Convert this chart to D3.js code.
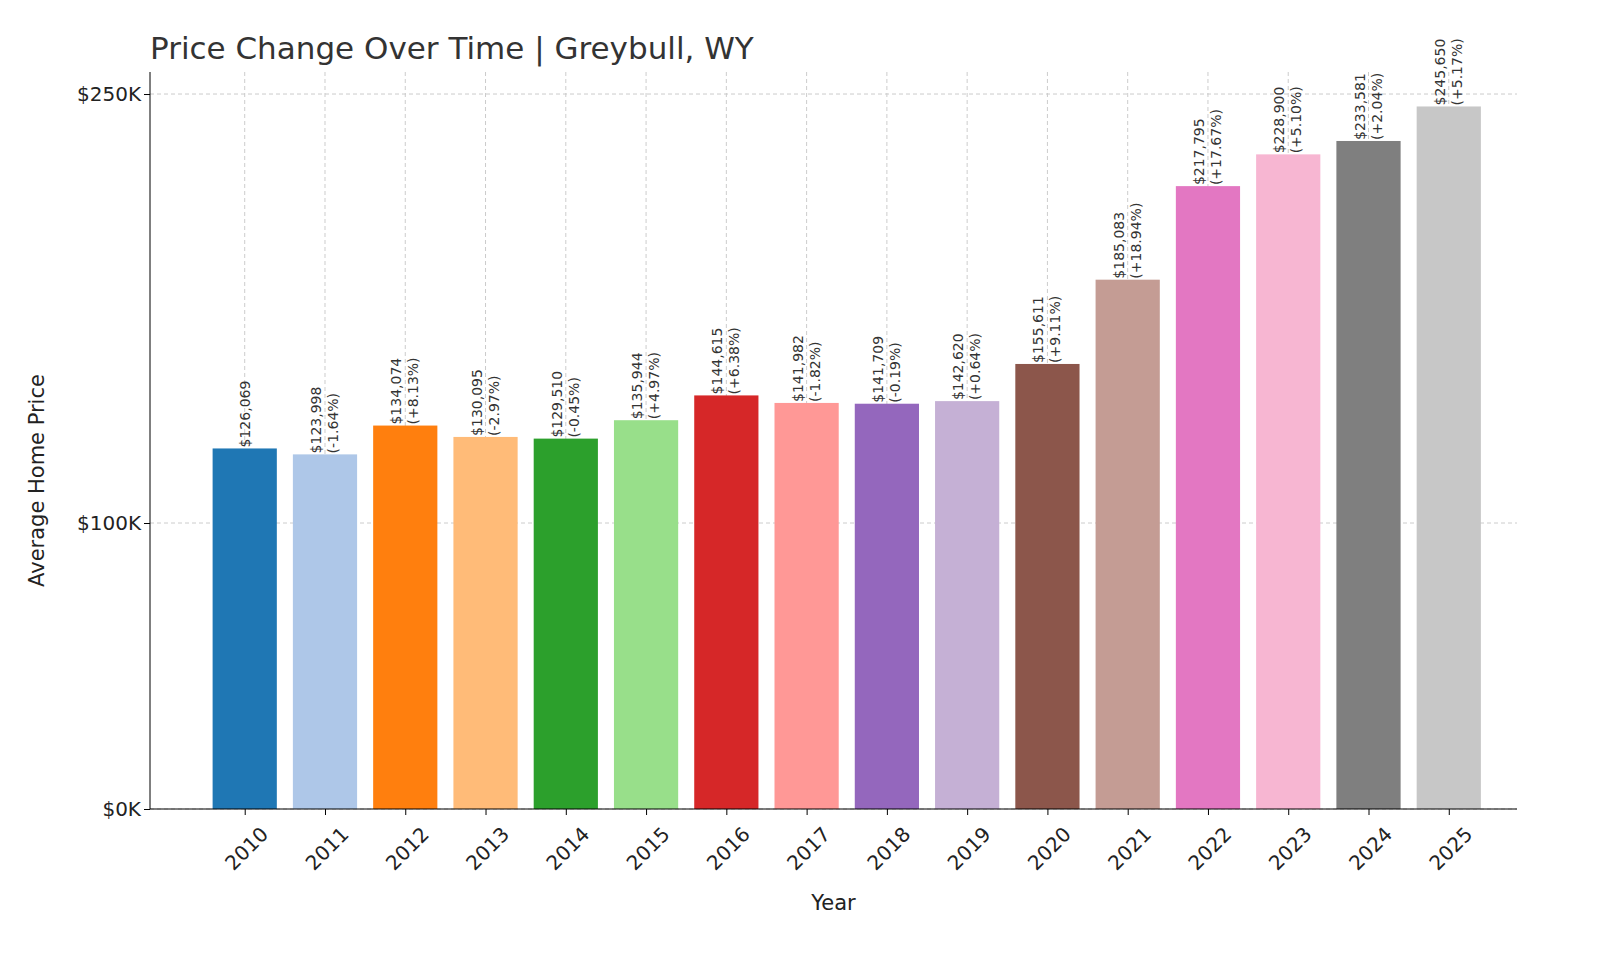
<!DOCTYPE html>
<html>
<head>
<meta charset="utf-8">
<script src="https://cdn.jsdelivr.net/npm/d3@7"></script>
<style>
  body { margin: 0; background: #fff; }
  text { font-family: "DejaVu Sans", sans-serif; }
</style>
</head>
<body>
<div id="chart"></div>
<script>
// Chart data
const years = [2010, 2011, 2012, 2013, 2014, 2015, 2016, 2017, 2018, 2019, 2020, 2021, 2022, 2023, 2024, 2025];
const prices = [126069, 123998, 134074, 130095, 129510, 135944, 144615, 141982, 141709, 142620, 155611, 185083, 217795, 228900, 233581, 245650];
const changes = [null, "-1.64%", "+8.13%", "-2.97%", "-0.45%", "+4.97%", "+6.38%", "-1.82%", "-0.19%", "+0.64%", "+9.11%", "+18.94%", "+17.67%", "+5.10%", "+2.04%", "+5.17%"];
const yTicks = [0, 100000, 250000];
const colors = ["#1f77b4", "#aec7e8", "#ff7f0e", "#ffbb78", "#2ca02c", "#98df8a", "#d62728", "#ff9896",
                "#9467bd", "#c5b0d5", "#8c564b", "#c49c94", "#e377c2", "#f7b6d2", "#7f7f7f", "#c7c7c7"];

const width = 1600, height = 960;
const plotLeft = 150, plotRight = 1517, plotTop = 72, plotBottom = 809;

const svg = d3.select("#chart").append("svg")
    .attr("width", width)
    .attr("height", height);

// x is a linear scale over the year index, like matplotlib's categorical axis
const x = d3.scaleLinear().domain([-1.18, 15.85]).range([plotLeft, plotRight]);
const y = d3.scaleLinear().domain([0, 257700]).range([plotBottom, plotTop]);
const barW = 0.8 * (x(1) - x(0));

// Grid lines
const grid = svg.append("g").attr("stroke", "#cccccc").attr("stroke-dasharray", "4,3").attr("stroke-width", 1);
grid.selectAll(".gx").data(years).enter().append("line")
    .attr("x1", (d, i) => x(i)).attr("x2", (d, i) => x(i))
    .attr("y1", plotTop).attr("y2", plotBottom);
grid.selectAll(".gy").data(yTicks).enter().append("line")
    .attr("x1", plotLeft).attr("x2", plotRight)
    .attr("y1", d => y(d)).attr("y2", d => y(d));

// Bars
svg.append("g").selectAll("rect").data(prices).enter().append("rect")
    .attr("x", (d, i) => x(i) - barW / 2)
    .attr("y", d => y(d))
    .attr("width", barW)
    .attr("height", d => plotBottom - y(d))
    .attr("fill", (d, i) => colors[i]);

// Value labels, rotated
const fmt = d3.format(",");
const labels = svg.append("g").attr("font-size", 14).attr("fill", "#333");
prices.forEach((p, i) => {
    const t = labels.append("text")
        .attr("transform", "translate(" + x(i) + "," + (y(p) - 1) + ") rotate(-90)")
        .attr("text-anchor", "start");
    if (changes[i] === null) {
        t.append("tspan").attr("x", 0).attr("y", 5).text("$" + fmt(p));
    } else {
        t.append("tspan").attr("x", 0).attr("y", -4).text("$" + fmt(p));
        t.append("tspan").attr("x", 0).attr("y", 13).text("(" + changes[i] + ")");
    }
});

// Axes
const xAxis = svg.append("g")
    .attr("transform", "translate(0," + plotBottom + ")")
    .call(d3.axisBottom(x).tickValues(d3.range(years.length)).tickFormat(i => years[i]).tickSize(6).tickSizeOuter(0));
xAxis.select(".domain").attr("d", "M" + plotLeft + ",0H" + plotRight);
xAxis.selectAll("text")
    .attr("font-size", 20)
    .attr("fill", "#222")
    .attr("text-anchor", "end")
    .attr("transform", "translate(8,10) rotate(-45)")
    .attr("dy", "0.71em");

const yAxis = svg.append("g")
    .attr("transform", "translate(" + plotLeft + ",0)")
    .call(d3.axisLeft(y).tickValues(yTicks).tickFormat(d => "$" + (d / 1000) + "K").tickSize(6).tickSizeOuter(0));
yAxis.select(".domain").attr("d", "M0," + plotTop + "V" + plotBottom);
yAxis.selectAll("text").attr("font-size", 20).attr("fill", "#222");

// Titles
svg.append("text")
    .attr("x", plotLeft).attr("y", 59)
    .attr("font-size", 31).attr("fill", "#333")
    .text("Price Change Over Time | Greybull, WY");

svg.append("text")
    .attr("x", (plotLeft + plotRight) / 2).attr("y", 910)
    .attr("text-anchor", "middle").attr("font-size", 21).attr("fill", "#222")
    .text("Year");

svg.append("text")
    .attr("transform", "translate(44," + ((plotTop + plotBottom) / 2 + 40) + ") rotate(-90)")
    .attr("text-anchor", "middle").attr("font-size", 21).attr("fill", "#222")
    .text("Average Home Price");
</script>
</body>
</html>
